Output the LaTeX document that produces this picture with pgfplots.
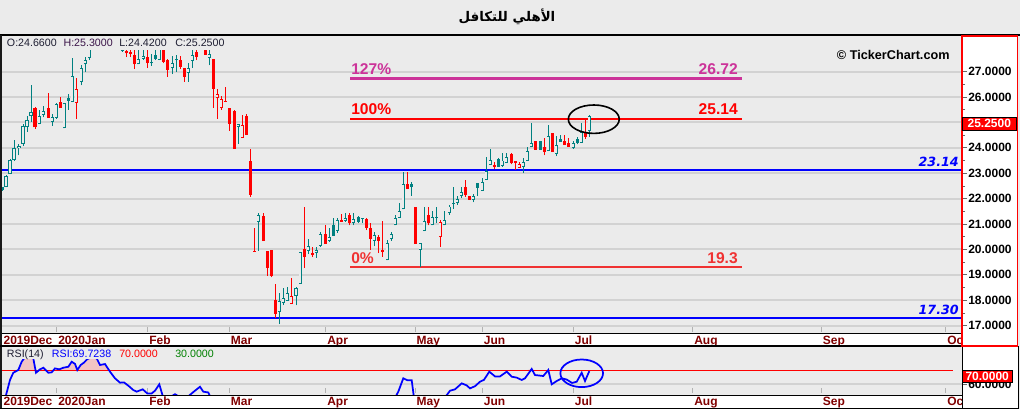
\documentclass[border=0pt]{standalone}
\usepackage{fontspec}
\setmainfont{Liberation Sans}
\newfontfamily\dejavu{DejaVu Sans}
\newfontfamily\arabicfont[Script=Arabic]{DejaVu Sans}
\TeXXeTstate=1
\usepackage{pgfplots}
\usepackage{pgfplotstable}
\pgfplotsset{compat=1.18}

\definecolor{bg}{RGB}{235,235,235}
\definecolor{upc}{RGB}{0,128,128}
\definecolor{dnc}{RGB}{255,0,0}
\definecolor{gridc}{RGB}{210,210,210}
\definecolor{maroon}{RGB}{128,0,0}
\definecolor{fibm}{RGB}{204,51,153}
\definecolor{fibz}{RGB}{240,50,50}
\definecolor{rsipink}{RGB}{242,196,196}
\definecolor{infoc}{RGB}{30,30,50}
\definecolor{rsigreen}{RGB}{0,128,0}

\pgfplotsset{
  vbar/.style 2 args={draw=none, mark=none, forget plot,
    error bars/.cd, y dir=plus, y explicit, error mark=none,
    error bar style={draw=#1, line width=#2, line cap=butt}},
  datestrip/.style={
    xmin=2, xmax=962,
    xtick={2,56.7,147.7,229.3,325.7,415,482.3,573.3,692.7,821.3,945.7},
    xticklabels={2019Dec,2020Jan,Feb,Mar,Apr,May,Jun,Jul,Aug,Sep,Oc},
    xtick pos=bottom,
    x tick style={draw=black!30, line width=0.75pt, yshift=4.5pt},
    xticklabel style={font=\bfseries\fontsize{9}{9}\selectfont, text=maroon,
      anchor=base west, inner sep=0pt, xshift=1pt, yshift=-4.7pt},
    tick align=outside, major tick length=3.75pt, minor tick length=2.25pt,
    y tick style={draw=black!60, line width=0.5pt},
    ytick pos=right, yticklabel pos=right,
    yticklabel style={font=\bfseries\fontsize{9}{9}\selectfont, inner sep=0pt,
      anchor=west, xshift=0.75pt},
    axis line style={draw=none},
    ymajorgrids, major grid style={draw=gridc, line width=1.4pt},
  },
}

% candles, x = bar position in pixels along the date axis
% teal hollow (close > open)
\pgfplotstableread{
x o h l c
6.3 22.45 22.93 22.45 22.88
10.3 22.96 23.56 22.96 23.52
14.3 23.52 24.31 23.48 23.98
19 23.98 24.15 23.70 24.07
23.3 24.17 24.94 24.07 24.86
27.3 24.81 25.27 24.64 25.09
31.3 25.24 26.48 25.03 25.40
39.3 24.93 25.50 24.93 25.27
43.3 25.30 25.65 25.20 25.45
52.3 25.03 25.35 24.87 25.22
56.3 25.19 25.77 25.14 25.72
64.3 24.77 25.77 24.77 25.77
72.3 25.80 27.53 25.80 26.82
81.3 26.60 27.26 26.46 27.13
85.3 27.29 27.59 26.98 27.47
89.3 27.53 28.10 27.45 27.95
122.3 27.80 28.10 27.78 27.84
138.3 27.29 28.00 27.29 27.49
143.3 27.50 28.00 27.46 27.60
151.3 27.32 27.70 27.24 27.36
159.3 27.46 28.00 27.45 27.90
172.3 27.13 27.60 26.90 27.33
188.3 26.94 27.33 26.60 27.13
192.3 27.43 27.85 27.16 27.64
209.3 27.55 27.90 27.25 27.68
238.3 24.83 24.95 24.17 24.93
258.3 21.09 21.43 19.94 21.36
279.3 17.55 18.28 17.06 17.97
283.3 17.91 18.47 17.81 18.08
287.3 17.98 18.54 17.98 18.28
296.0 18.18 18.54 17.80 18.47
300.3 18.65 19.91 18.65 19.91
308.3 19.95 20.40 19.82 20.14
316.3 19.85 20.10 19.67 19.97
320.3 20.15 20.67 20.11 20.61
329.3 20.33 20.86 20.30 20.48
337.3 20.74 21.25 20.65 21.17
345.3 21.11 21.45 21.08 21.23
353.3 21.06 21.45 20.95 21.20
374.3 20.35 20.70 20.12 20.56
387.3 19.57 20.37 19.57 20.24
391.3 20.40 20.70 20.35 20.61
395.3 20.95 21.36 20.95 21.23
399.3 21.25 21.82 21.25 21.52
403.3 21.58 23.06 21.58 22.58
420.3 19.98 20.24 19.30 20.24
424.3 20.72 21.69 20.72 21.11
432.3 20.95 21.50 20.95 21.27
444.3 20.95 21.52 20.95 21.16
449.3 21.43 21.75 21.36 21.69
457.3 21.82 22.10 21.76 21.98
461.3 22.12 22.45 22.02 22.26
473.3 21.95 22.20 21.85 22.10
482.3 22.31 22.83 22.31 22.67
486.3 22.75 23.65 22.75 23.10
490.3 23.34 23.94 23.34 23.52
502.3 23.29 23.80 23.26 23.50
506.3 23.42 23.78 23.40 23.65
523.3 23.26 23.60 23.00 23.45
527.3 23.50 24.05 23.50 23.89
531.3 24.02 24.97 24.02 24.20
548.3 23.89 24.90 23.89 24.47
556.3 23.75 24.47 23.66 24.11
573.3 23.98 24.25 23.96 24.18
581.3 24.20 24.97 24.20 24.64
589.3 24.66 25.30 24.42 25.25
}\tuph

% teal filled
\pgfplotstableread{
x o h l c
2.3 22.45 22.47 22.31 22.33
68.3 25.98 26.10 25.50 25.85
155.3 27.66 27.90 27.45 27.49
176.3 27.47 27.66 27.00 27.45
333.3 20.96 21.23 20.53 20.53
358.3 21.27 21.33 21.06 21.09
362.3 21.23 21.23 21.06 21.21
411.3 22.58 22.67 22.12 22.45
436.3 21.28 21.69 21.06 21.26
453.3 21.80 22.45 21.60 21.78
477.3 22.60 22.60 22.12 22.42
498.3 23.55 23.60 23.26 23.26
540.3 24.28 24.28 23.92 23.92
560.3 24.34 24.50 24.23 24.23
577.3 24.33 24.44 24.14 24.18
}\tupf

% red filled (close < open)
\pgfplotstableread{
x o h l c
35.3 25.57 25.62 24.75 24.81
48.3 25.57 26.17 25.19 25.19
60.3 25.82 26.00 25.58 25.58
126.3 27.83 28.10 27.57 27.72
130.3 27.78 28.00 27.57 27.70
134.3 27.66 28.00 27.10 27.29
147.3 27.57 28.00 27.14 27.33
163.3 27.90 28.00 27.32 27.39
167.3 27.46 27.50 26.80 27.07
180.3 27.46 27.60 27.10 27.20
184.3 27.14 27.14 26.60 26.80
196.3 27.79 27.90 27.45 27.59
205.3 27.95 28.00 27.66 27.66
213.3 27.50 27.50 25.58 26.33
225.3 25.84 26.41 25.80 25.81
229.3 25.58 25.58 24.68 24.95
234.3 25.46 25.50 23.97 23.97
246.3 25.26 25.35 24.52 24.52
250.3 23.48 23.94 22.08 22.15
254.3 19.94 20.86 19.91 19.91
263.3 21.32 21.43 20.33 20.33
267.3 19.95 19.95 18.97 19.28
271.3 19.98 19.98 18.90 18.96
275.3 18.01 18.64 17.29 17.47
304.3 20.02 21.66 19.26 19.70
312.3 19.85 20.10 19.70 19.80
325.3 20.61 20.96 20.22 20.22
341.3 21.16 21.40 21.09 21.09
349.3 21.36 21.45 20.95 21.06
366.3 21.19 21.23 20.76 20.86
370.3 20.86 21.06 19.98 20.43
378.3 20.48 20.56 19.85 20.35
382.3 19.98 21.13 19.72 19.89
407.3 22.58 23.06 22.37 22.37
415.3 21.67 21.67 20.23 20.23
428.3 21.34 21.69 20.95 21.03
465.3 22.45 22.72 22.08 22.15
469.3 22.10 22.10 21.95 21.95
494.3 23.33 23.45 23.15 23.26
511.3 23.75 23.78 23.35 23.39
515.3 23.48 23.48 23.13 23.42
535.3 24.28 24.28 23.92 23.92
544.3 24.05 24.39 23.70 23.83
552.3 24.60 24.60 23.85 23.85
564.3 24.28 24.52 24.11 24.11
568.3 24.18 24.40 24.05 24.05
585.3 24.57 25.17 24.35 24.44
}\tdnf

% red hollow
\pgfplotstableread{
x o h l c
76.3 25.78 26.74 25.14 26.32
217.3 25.95 26.33 25.15 26.11
221.3 25.58 26.04 25.49 25.91
242.3 24.38 25.30 24.38 24.90
291.3 17.85 18.87 17.85 18.16
440.3 20.48 21.16 20.09 21.09
519.3 23.22 23.45 23.22 23.37
}\tdnh

\pgfplotstableread{
x y
2 40
6 52
10 63.2
13.3 68.5
18.3 70.5
21.7 76.6
25 80
30 81
33.3 79
36 68.5
40 71
43.3 72.2
48.3 68.5
51.7 68.8
55 71.7
59.3 71
63.3 72.2
68.3 72.9
71.7 76.6
75 75
77.3 70.5
80.7 74.2
84 76
87.3 78.5
92 80
96.7 79
100 74.2
105 74.9
110 69.3
115 64.4
120 61.2
124 61.4
128.3 59
133.3 55.8
136.7 54.6
142.7 56.3
147.3 53.3
151.7 53.3
155 55.3
159.3 60
163.3 50
167 48
171 51
175 52.7
179 51
184 47
188 51
191.7 53.3
195 55.3
200 58.2
203.3 54.6
208.3 54
212 48
216 45
221 42
230 38
235 33
250 25
255 35
260 38
265 32
272 25
276 22
283 28
290 30
300 40
305 44
315 43
325 45
335 48
345 49
360 49
370 45
382 40
390 46
395 50
398.3 54.6
403.3 64.4
407.3 63
411.7 63
414 50
418 42
425 47
432 48
440 46
446.7 52
450 55.3
455 56.3
461.7 60.7
466.7 59.2
470 57
475 58.6
480 61.9
484 63.3
489.3 69.3
495 65.8
500 65.8
506.7 69.3
511.7 65.6
516.7 64.9
521.7 63.2
525 64.4
531.7 71.3
535 66.8
543.3 66.1
548.3 70.5
551.7 60
556.7 62.4
561.7 64.4
566.7 63.5
572 61
576.7 61.9
581.7 68.5
585 62.4
589.3 69.7
}\rsi

\newcommand\wicks[2]{%
  \addplot[vbar={#2}{0.75pt}] table[x=x, y=l, y error expr=\thisrow{h}-\thisrow{l}] {#1};}
\newcommand\bodies[2]{%
  \addplot[vbar={#2}{2.7pt}] table[x=x, y expr={min(\thisrow{o},\thisrow{c})},
    y error expr={max(abs(\thisrow{c}-\thisrow{o}),0.035)}] {#1};}
\newcommand\hollow[1]{%
  \addplot[vbar={bg}{1.3pt}] table[x=x, y expr={min(\thisrow{o},\thisrow{c})+0.037},
    y error expr={max(abs(\thisrow{c}-\thisrow{o})-0.074,0)}] {#1};}

\begin{document}
\begin{tikzpicture}[x=0.75pt,y=-0.75pt]
\fill[bg] (0,0) rectangle (1020,409);
\fill[white] (2,333.3) rectangle (962,346);
\fill[white] (2,395) rectangle (962,408);
\fill[white] (962,36) rectangle (1018,409);

\begin{axis}[
  datestrip,
  at={(1.5pt,-249.75pt)}, anchor=south west, scale only axis,
  width=720pt, height=212.22pt,
  ymin=16.71, ymax=27.85,
  ytick={17,...,27}, minor y tick num=1,
  yticklabel style={/pgf/number format/.cd, fixed, fixed zerofill, precision=4,
    assume math mode=true},
]
\addplot[blue, line width=1.6pt, forget plot] coordinates {(2,23.14) (962,23.14)};
\addplot[blue, line width=1.6pt, forget plot] coordinates {(2,17.30) (962,17.30)};
\addplot[fibm, line width=1.9pt, forget plot] coordinates {(350,26.72) (742,26.72)};
\addplot[dnc, line width=1.9pt, forget plot] coordinates {(350,25.14) (742,25.14)};
\addplot[fibz, line width=1.9pt, forget plot] coordinates {(350,19.3) (742,19.3)};

\wicks{\tuph}{upc}
\wicks{\tupf}{upc}
\wicks{\tdnf}{dnc}
\wicks{\tdnh}{dnc}
\bodies{\tuph}{upc}
\bodies{\tupf}{upc}
\bodies{\tdnf}{dnc}
\bodies{\tdnh}{dnc}
\hollow{\tuph}
\hollow{\tdnh}
\end{axis}

\begin{axis}[
  datestrip,
  at={(1.5pt,-295.5pt)}, anchor=south west, scale only axis,
  width=720pt, height=25.5pt,
  ymin=52.87, ymax=77.87,
  ytick={60}, yticklabels={60.0000},
]
% overbought area: RSI held at no less than 70, closed along the 70 line
\addplot[fill=rsipink, draw=none, forget plot]
  table[x=x, y expr={max(\thisrow{y},70)}] {\rsi} -- cycle;
\addplot[red, line width=0.6pt, forget plot] coordinates {(2,70) (953,70)};
\addplot[blue, line width=1.3pt, forget plot] table[x=x, y=y] {\rsi};
\end{axis}

% frames
\draw[black, line width=1.1pt] (0,35) -- (1020,35);
\fill[black!90] (0,35) rectangle (2,409);
\draw[black, line width=0.75pt] (2,333.3) -- (962,333.3);
\draw[black, line width=1.5pt] (0,346) -- (1018,346);
\draw[black, line width=0.75pt] (2,395) -- (962,395);
\draw[black, line width=0.75pt] (0,408.3) -- (1018,408.3);
\draw[black, line width=0.75pt] (962,346) -- (962,409);
\draw[black, line width=0.75pt] (1018,346) -- (1018,409);
\draw[red, line width=1.1pt] (962,36) rectangle (1017.5,346);

% title
\node at (507,17) {\arabicfont\bfseries\fontsize{10}{12}\selectfont\beginR الأهلي للتكافل\endR};

% info rows
\begin{scope}[every node/.style={anchor=base west, inner sep=0pt, font=\fontsize{8}{9}\selectfont}]
\node[text=infoc] at (6.7,46.5) {O:24.6600};
\node[text=infoc!70!violet] at (63.3,46.5) {H:25.3000};
\node[text=infoc] at (119,46.5) {L:24.4200};
\node[text=infoc] at (175,46.5) {C:25.2500};
\node[text=infoc] at (6.7,357) {RSI(14)};
\node[text=blue] at (51.7,357) {RSI:69.7238};
\node[text=red] at (119,357) {70.0000};
\node[text=rsigreen] at (175,357) {30.0000};
\end{scope}

\node[anchor=base west, inner sep=0pt, font=\bfseries\fontsize{9.5}{10}\selectfont] at (836.7,59.3) {© TickerChart.com};

% fibonacci labels
\begin{scope}[every node/.style={inner sep=0pt, font=\bfseries\fontsize{11.7}{12}\selectfont}]
\node[anchor=base west, text=fibm] at (351,75) {127\%};
\node[anchor=base east, text=fibm] at (738,75) {26.72};
\node[anchor=base west, text=dnc] at (351,115) {100\%};
\node[anchor=base east, text=dnc] at (738,115) {25.14};
\node[anchor=base west, text=fibz] at (351,263.3) {0\%};
\node[anchor=base east, text=fibz] at (738,263.3) {19.3};
\end{scope}
\node[anchor=base east, inner sep=0pt, text=blue, font=\dejavu\bfseries\itshape\fontsize{9.5}{10}\selectfont] at (959,166.7) {23.14};
\node[anchor=base east, inner sep=0pt, text=blue, font=\dejavu\bfseries\itshape\fontsize{9.5}{10}\selectfont] at (959,315) {17.30};

% price boxes
\node[fill=red, draw=black, line width=0.4pt, text=white, inner sep=0pt,
  minimum width=40pt, minimum height=9.5pt, font=\bfseries\fontsize{9}{9}\selectfont]
  at (989.3,123.7) {25.2500};
\node[fill=red, draw=black, line width=0.4pt, text=white, inner sep=0pt,
  minimum width=37.7pt, minimum height=8.7pt, font=\bfseries\fontsize{9}{9}\selectfont]
  at (987.2,376.5) {70.0000};

% highlight ellipses
\draw[black, line width=1.2pt] (593.8,119.2) ellipse [x radius=19.1pt, y radius=10.65pt];
\draw[blue, line width=1.3pt] (581.7,373.3) ellipse [x radius=16pt, y radius=10.35pt];

\pgfresetboundingbox
\path[use as bounding box] (0,0) rectangle (1020,409);
\end{tikzpicture}
\end{document}
